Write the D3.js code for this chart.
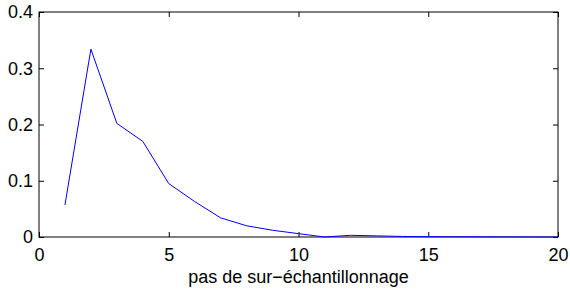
<!DOCTYPE html>
<html>
<head>
<meta charset="utf-8">
<script src="https://cdn.jsdelivr.net/npm/d3@7"></script>
<style>
  body { margin: 0; background: #fff; }
  text { font-family: "Liberation Sans", Arial, sans-serif; }
</style>
</head>
<body>
<div id="chart"></div>
<script>
const steps = [1, 2, 3, 4, 5, 6, 7, 8, 9, 10, 11, 12, 13, 14, 15, 16, 17, 18, 19, 20];
const values = [0.057, 0.334, 0.202, 0.170, 0.095, 0.063, 0.034, 0.020, 0.012, 0.006, 0.0, 0.003, 0.002, 0.001, 0.0006, 0.0004, 0.0003, 0.0002, 0.0001, 0.0];
const xTicks = [0, 5, 10, 15, 20];
const yTicks = [0, 0.1, 0.2, 0.3, 0.4];
const xLabel = "pas de sur\u2212échantillonnage";

const W = 570, H = 293;
const margin = { left: 39, right: 12, top: 12, bottom: 56 };
const width = W - margin.left - margin.right;
const height = H - margin.top - margin.bottom;
const fontSize = 18;

const svg = d3.select("#chart").append("svg")
  .attr("width", W).attr("height", H)
  .append("g")
  .attr("transform", `translate(${margin.left},${margin.top})`);

const x = d3.scaleLinear().domain([0, 20]).range([0, width]);
const y = d3.scaleLinear().domain([0, 0.4]).range([height, 0]);

const fmt = (d) => (d === 0 ? "0" : d3.format(".1f")(d));
const tickLen = 5;

// axes on all four sides, ticks pointing inward (matlab style)
const xAxis = svg.append("g").attr("transform", `translate(0,${height})`)
  .call(d3.axisBottom(x).tickValues(xTicks).tickSize(-tickLen).tickPadding(11).tickFormat(d3.format("d")));
const xTop = svg.append("g")
  .call(d3.axisTop(x).tickValues(xTicks).tickSize(-tickLen).tickFormat(""));
const yAxis = svg.append("g")
  .call(d3.axisLeft(y).tickValues(yTicks).tickSize(-tickLen).tickPadding(6).tickFormat(fmt));
const yRight = svg.append("g").attr("transform", `translate(${width},0)`)
  .call(d3.axisRight(y).tickValues(yTicks).tickSize(-tickLen).tickFormat(""));

[xAxis, xTop, yAxis, yRight].forEach((g) => {
  g.select(".domain").remove();
  g.selectAll("line").attr("stroke", "#000");
  g.selectAll("text").attr("font-size", fontSize).attr("fill", "#000")
    .style("font-family", "'Liberation Sans', Arial, sans-serif");
});

svg.append("rect")
  .attr("width", width).attr("height", height)
  .attr("fill", "none").attr("stroke", "#000").attr("stroke-width", 1);

const line = d3.line().x((d, i) => x(steps[i])).y((d) => y(d));
svg.append("path")
  .datum(values)
  .attr("d", line)
  .attr("fill", "none")
  .attr("stroke", "#0000ff")
  .attr("stroke-width", 1);

svg.append("text")
  .attr("x", width / 2)
  .attr("y", height + 46)
  .attr("text-anchor", "middle")
  .attr("font-size", fontSize)
  .text(xLabel);
</script>
</body>
</html>
